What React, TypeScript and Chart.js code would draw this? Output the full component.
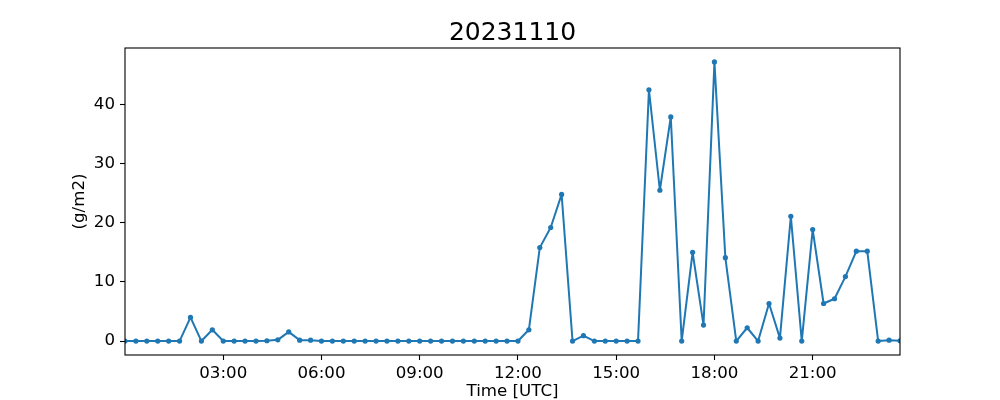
import React, { useEffect, useRef } from "react";
import { Chart, registerables } from "chart.js";

Chart.register(...registerables);

const TITLE = "20231110";
const X_LABEL = "Time [UTC]";
const Y_LABEL = "(g/m2)";

const TIMES = [
  "00:00", "00:20", "00:40", "01:00", "01:20", "01:40", "02:00", "02:20", "02:40",
  "03:00", "03:20", "03:40", "04:00", "04:20", "04:40", "05:00", "05:20", "05:40",
  "06:00", "06:20", "06:40", "07:00", "07:20", "07:40", "08:00", "08:20", "08:40",
  "09:00", "09:20", "09:40", "10:00", "10:20", "10:40", "11:00", "11:20", "11:40",
  "12:00", "12:20", "12:40", "13:00", "13:20", "13:40", "14:00", "14:20", "14:40",
  "15:00", "15:20", "15:40", "16:00", "16:20", "16:40", "17:00", "17:20", "17:40",
  "18:00", "18:20", "18:40", "19:00", "19:20", "19:40", "20:00", "20:20", "20:40",
  "21:00", "21:20", "21:40", "22:00", "22:20", "22:40", "23:00", "23:20", "23:40",
];

const VALUES = [
  0, 0, 0, 0, 0, 0, 4.0, 0, 1.9,
  0, 0, 0, 0, 0.05, 0.2, 1.55, 0.15, 0.15,
  0, 0, 0, 0, 0, 0, 0, 0, 0,
  0, 0, 0, 0, 0, 0, 0, 0, 0,
  0, 1.9, 15.8, 19.2, 24.8, 0, 0.9, 0, 0,
  0, 0, 0, 42.5, 25.5, 37.9, 0, 15.0, 2.7,
  47.2, 14.1, 0, 2.25, 0, 6.35, 0.5, 21.1, 0,
  18.85, 6.35, 7.15, 10.9, 15.2, 15.2, 0, 0.15, 0.05,
];

const X_TICKS = ["03:00", "06:00", "09:00", "12:00", "15:00", "18:00", "21:00"];
const Y_TICKS = [0, 10, 20, 30, 40];
const Y_MIN = -2.36;
const Y_MAX = 49.56;

const FONT = "'DejaVu Sans', sans-serif";
const LINE_COLOR = "#1f77b4";

export default function App() {
  const ref = useRef<HTMLCanvasElement | null>(null);

  useEffect(() => {
    if (!ref.current) return;
    const framePlugin = {
      id: "frame",
      afterDatasetsDraw(chart: any) {
        const { ctx, chartArea } = chart;
        ctx.save();
        ctx.strokeStyle = "#000";
        ctx.lineWidth = 1.1;
        ctx.strokeRect(chartArea.left, chartArea.top, chartArea.right - chartArea.left, chartArea.bottom - chartArea.top);
        ctx.fillStyle = "#000";
        ctx.font = `25px ${FONT}`;
        ctx.textAlign = "center";
        ctx.textBaseline = "alphabetic";
        ctx.fillText(TITLE, (chartArea.left + chartArea.right) / 2, 40);
        ctx.restore();
      },
    };

    const chart = new Chart(ref.current, {
      type: "line",
      data: {
        labels: TIMES,
        datasets: [
          {
            data: VALUES,
            borderColor: LINE_COLOR,
            backgroundColor: LINE_COLOR,
            borderWidth: 2,
            borderJoinStyle: "round",
            borderCapStyle: "round",
            pointRadius: 2.6,
            pointBorderWidth: 0,
            pointBackgroundColor: LINE_COLOR,
            tension: 0,
            clip: 0,
          },
        ],
      },
      options: {
        animation: false,
        responsive: false,
        maintainAspectRatio: false,
        layout: { padding: { top: 48, right: 100, left: 0, bottom: 0 } },
        plugins: {
          legend: { display: false },
          tooltip: { enabled: false },
          title: { display: false },
        },
        scales: {
          x: {
            type: "category",
            offset: false,
            afterFit(scale: any) {
              scale.height = 45;
            },
            afterBuildTicks(scale: any) {
              scale.ticks = scale.ticks.filter((t: any) => X_TICKS.includes(TIMES[t.value]));
            },
            ticks: {
              autoSkip: false,
              maxRotation: 0,
              color: "#000",
              padding: 4,
              font: { family: FONT, size: 16.67 },
              callback: (v: any) => TIMES[v as number],
            },
            grid: {
              drawOnChartArea: false,
              drawTicks: true,
              tickLength: 5,
              tickColor: "#000",
              tickWidth: 1.1,
            },
            border: { display: false },
            title: {
              display: true,
              text: X_LABEL,
              color: "#000",
              font: { family: FONT, size: 16.67 },
              padding: { top: 0, bottom: -2 },
            },
          },
          y: {
            type: "linear",
            min: Y_MIN,
            max: Y_MAX,
            afterFit(scale: any) {
              scale.width = 125;
            },
            afterBuildTicks(scale: any) {
              scale.ticks = Y_TICKS.map((v) => ({ value: v }));
            },
            ticks: {
              color: "#000",
              padding: 5,
              font: { family: FONT, size: 16.67 },
              callback: (v: any) => String(v),
            },
            grid: {
              drawOnChartArea: false,
              drawTicks: true,
              tickLength: 5,
              tickColor: "#000",
              tickWidth: 1.1,
            },
            border: { display: false },
            title: {
              display: true,
              text: Y_LABEL,
              color: "#000",
              font: { family: FONT, size: 16.67 },
              padding: { top: 70, bottom: 0 },
            },
          },
        },
      },
      plugins: [framePlugin],
    });
    return () => chart.destroy();
  }, []);

  return (
    <div style={{ position: "absolute", left: 0, top: 0, width: 1000, height: 400, background: "#fff" }}>
      <canvas ref={ref} width={1000} height={400} style={{ width: 1000, height: 400, display: "block" }} />
    </div>
  );
}
